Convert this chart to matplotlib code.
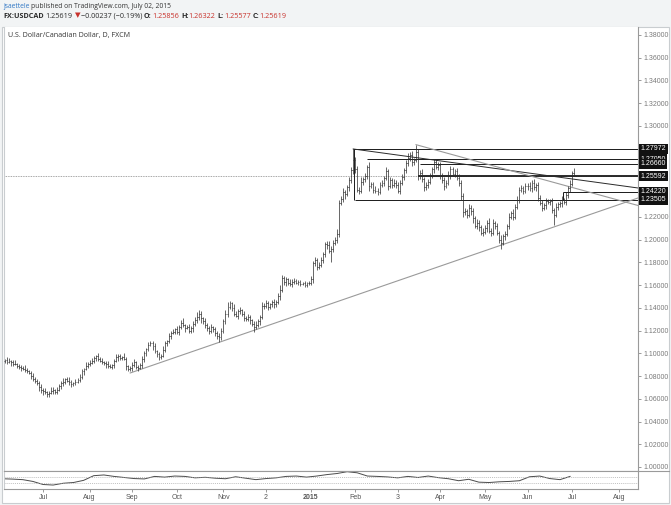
import numpy as np
import pandas as pd
import matplotlib
matplotlib.use("Agg")
import matplotlib.pyplot as plt
from matplotlib.collections import LineCollection
from matplotlib.patches import Rectangle
from matplotlib.lines import Line2D

# ---- data: USDCAD daily closes, Jun 3 2014 .. Jul 2 2015 ----
c_jun14 = [1.0935, 1.0940, 1.0925, 1.0935, 1.0920, 1.0910, 1.0905, 1.0890, 1.0880, 1.0875,
           1.0865, 1.0855, 1.0845, 1.0825, 1.0800, 1.0775, 1.0760, 1.0735, 1.0700, 1.0675]
c_jul14 = [1.0665, 1.0660, 1.0640, 1.0650, 1.0670, 1.0680, 1.0660, 1.0675, 1.0710, 1.0740,
           1.0750, 1.0770, 1.0760, 1.0745, 1.0730, 1.0740, 1.0750, 1.0765, 1.0790, 1.0840,
           1.0860, 1.0890, 1.0905]
c_aug14 = [1.0915, 1.0935, 1.0960, 1.0975, 1.0950, 1.0935, 1.0925, 1.0915, 1.0905, 1.0890,
           1.0880, 1.0895, 1.0930, 1.0965, 1.0975, 1.0960, 1.0970, 1.0950, 1.0885, 1.0860,
           1.0870]
c_sep14 = [1.0900, 1.0920, 1.0880, 1.0870, 1.0895, 1.0950, 1.1000, 1.1040, 1.1070, 1.1090,
           1.1060, 1.1020, 1.0990, 1.0970, 1.0975, 1.1030, 1.1090, 1.1110, 1.1150, 1.1180,
           1.1190, 1.1210]
c_oct14 = [1.1190, 1.1230, 1.1270, 1.1250, 1.1220, 1.1230, 1.1200, 1.1220, 1.1260, 1.1290,
           1.1320, 1.1350, 1.1310, 1.1280, 1.1250, 1.1220, 1.1200, 1.1230, 1.1210, 1.1180,
           1.1150, 1.1140, 1.1200]
c_nov14 = [1.1280, 1.1350, 1.1410, 1.1440, 1.1400, 1.1350, 1.1330, 1.1370, 1.1380, 1.1350,
           1.1310, 1.1300, 1.1320, 1.1290, 1.1260, 1.1230, 1.1250, 1.1280, 1.1320, 1.1420]
c_dec14 = [1.1420, 1.1440, 1.1410, 1.1430, 1.1450, 1.1430, 1.1450, 1.1500, 1.1560, 1.1660,
           1.1630, 1.1650, 1.1620, 1.1610, 1.1630, 1.1640, 1.1620, 1.1625, 1.1610, 1.1620,
           1.1600, 1.1615, 1.1620]
c_jan15 = [1.1650, 1.1790, 1.1820, 1.1760, 1.1780, 1.1820, 1.1870, 1.1960, 1.1950, 1.1900,
           1.1920, 1.1970, 1.2000, 1.2050, 1.2320, 1.2360, 1.2420, 1.2400, 1.2460, 1.2520,
           1.2610, 1.2700]
c_feb15 = [1.2620, 1.2440, 1.2430, 1.2510, 1.2530, 1.2560, 1.2640, 1.2470, 1.2490, 1.2440,
           1.2430, 1.2420, 1.2480, 1.2500, 1.2540, 1.2600, 1.2470, 1.2520, 1.2480, 1.2500]
c_mar15 = [1.2480, 1.2430, 1.2500, 1.2550, 1.2610, 1.2670, 1.2720, 1.2740, 1.2680, 1.2700,
           1.2770, 1.2560, 1.2590, 1.2530, 1.2460, 1.2480, 1.2510, 1.2560, 1.2620, 1.2680,
           1.2640, 1.2660]
c_apr15 = [1.2560, 1.2520, 1.2470, 1.2500, 1.2560, 1.2620, 1.2580, 1.2600, 1.2540, 1.2500,
           1.2380, 1.2240, 1.2250, 1.2220, 1.2280, 1.2250, 1.2190, 1.2120, 1.2150, 1.2110,
           1.2060, 1.2070]
c_may15 = [1.2100, 1.2150, 1.2080, 1.2060, 1.2150, 1.2120, 1.2060, 1.2000, 1.1970, 1.2030,
           1.2050, 1.2120, 1.2200, 1.2230, 1.2200, 1.2290, 1.2350, 1.2440, 1.2450, 1.2430,
           1.2470]
c_jun15 = [1.2470, 1.2450, 1.2500, 1.2460, 1.2480, 1.2370, 1.2320, 1.2280, 1.2300, 1.2340,
           1.2330, 1.2340, 1.2260, 1.2220, 1.2290, 1.2310, 1.2320, 1.2350, 1.2330, 1.2390,
           1.2450, 1.2490]
c_jul15 = [1.25856, 1.25619]
first_open = 1.0930

# wick length above / below the bar body, in units of 10 pips
wick_hi = [2, 1, 3, 2, 1, 2, 3, 1, 2, 2, 1, 3, 2, 1, 2, 3, 2, 1, 2, 3,
           2, 3, 1, 2, 3, 2, 1, 3, 2, 2, 3, 1, 2, 3, 2, 1, 2, 2, 3, 2, 1, 3, 2,
           3, 2, 2, 1, 3, 2, 2, 1, 2, 3, 2, 1, 2, 3, 2, 2, 1, 3, 2, 1, 2,
           2, 3, 1, 2, 2, 3, 2, 1, 3, 2, 2, 3, 1, 2, 2, 3, 2, 1, 3, 2, 2, 1,
           3, 2, 2, 4, 1, 2, 3, 2, 2, 3, 4, 3, 2, 1, 3, 2, 2, 3, 1, 2, 2, 3, 2,
           2, 3, 4, 2, 1, 3, 2, 2, 3, 1, 2, 2, 3, 2, 1, 2, 3, 2, 2, 3,
           2, 3, 2, 1, 2, 3, 2, 3, 4, 3, 2, 2, 1, 3, 2, 2, 1, 2, 2, 1, 2, 1, 2,
           3, 2, 3, 2, 2, 3, 2, 2, 3, 4, 2, 3, 2, 4, 3, 2, 3, 2, 2, 3, 3, 10,
           3, 3, 2, 4, 2, 3, 2, 4, 2, 2, 3, 2, 3, 2, 2, 4, 2, 3, 2, 3,
           2, 3, 2, 3, 2, 3, 4, 3, 4, 2, 6, 3, 2, 3, 2, 3, 2, 3, 2, 3, 3, 2,
           2, 3, 3, 2, 4, 3, 2, 2, 3, 4, 2, 3, 3, 2, 3, 2, 3, 2, 3, 2, 2, 3,
           3, 2, 4, 2, 3, 1, 3, 2, 4, 2, 3, 2, 3, 2, 4, 2, 3, 2, 3, 2, 3,
           3, 4, 2, 3, 2, 3, 2, 3, 2, 3, 2, 2, 3, 2, 3, 2, 2, 3, 2, 3, 2, 3,
           2, 5]
wick_lo = [1, 2, 2, 1, 3, 2, 1, 2, 2, 3, 1, 2, 2, 1, 3, 2, 2, 1, 3, 2,
           3, 2, 2, 2, 1, 3, 2, 2, 1, 2, 3, 2, 1, 2, 3, 2, 2, 1, 2, 2, 3, 1, 2,
           2, 1, 2, 3, 2, 1, 2, 2, 3, 2, 1, 2, 2, 1, 3, 2, 2, 1, 3, 2, 2,
           3, 2, 2, 3, 1, 2, 3, 2, 2, 1, 3, 2, 2, 3, 2, 1, 2, 3, 2, 2, 1, 2,
           2, 3, 2, 2, 3, 1, 2, 2, 3, 2, 2, 3, 4, 2, 3, 2, 3, 2, 2, 3, 2, 4, 2,
           2, 2, 3, 2, 3, 2, 1, 3, 2, 2, 3, 2, 2, 3, 2, 4, 2, 2, 3, 2,
           3, 2, 3, 2, 2, 3, 2, 2, 3, 2, 3, 4, 2, 2, 3, 2, 1, 2, 2, 1, 2, 2, 1,
           2, 3, 2, 3, 2, 2, 3, 2, 3, 2, 10, 3, 2, 3, 3, 2, 3, 4, 2, 3, 2, 3,
           3, 2, 3, 2, 3, 2, 3, 4, 2, 3, 2, 3, 2, 2, 3, 2, 3, 2, 3, 2,
           3, 2, 3, 2, 3, 2, 2, 3, 3, 2, 2, 4, 3, 2, 3, 2, 3, 2, 2, 3, 2, 3,
           3, 2, 3, 2, 2, 3, 2, 3, 2, 3, 3, 4, 2, 3, 2, 3, 4, 2, 3, 3, 2, 3,
           2, 3, 2, 3, 2, 3, 2, 3, 5, 2, 3, 2, 3, 2, 3, 2, 2, 3, 2, 3, 2,
           3, 2, 3, 2, 3, 3, 2, 3, 2, 3, 2, 3, 3, 9, 2, 3, 2, 3, 2, 3, 2, 3,
           2, 0]
last_ohlc = (1.25856, 1.26322, 1.25577, 1.25619)

# oscillator pane, one reading every 5 bars
osc_vals = [57, 55, 52, 42, 25, 22, 32, 36, 48, 74, 78, 70, 64, 58, 56, 70, 66, 72, 70, 62,
            65, 60, 57, 68, 60, 52, 58, 62, 70, 72, 66, 72, 80, 86, 96, 90, 72, 70, 67, 62,
            70, 64, 72, 63, 57, 46, 54, 38, 36, 40, 42, 46, 68, 72, 58, 52, 70]

# drawn levels / trend lines (bar index, price)
h_levels = [1.27972, 1.27050, 1.26660, 1.25592, 1.24220, 1.23505]
h_starts = [173, 180, 206, 205, 276.5, 174]
trend_black = ([173, 313.5], [1.27972, 1.2454])
trend_gray1 = ([204, 313.5], [1.2835, 1.2300])
trend_gray2 = ([63, 313.5], [1.0827, 1.2366])

month_ticks = [20, 43, 64, 86, 109, 130, 152, 174, 195, 216, 238, 259, 281, 304]
month_labels = ["Jul", "Aug", "Sep", "Oct", "Nov", "2", "2015", "Feb", "3", "Apr",
                "May", "Jun", "Jul", "Aug"]

closes = np.array(c_jun14 + c_jul14 + c_aug14 + c_sep14 + c_oct14 + c_nov14 + c_dec14
                  + c_jan15 + c_feb15 + c_mar15 + c_apr15 + c_may15 + c_jun15 + c_jul15)
dates = pd.bdate_range("2014-06-03", "2015-07-02")
assert len(dates) == len(closes) == len(wick_hi) == len(wick_lo), \
    (len(dates), len(closes), len(wick_hi), len(wick_lo))

opens = np.r_[first_open, closes[:-1]]
highs = np.maximum(opens, closes) + np.array(wick_hi) * 0.001
lows = np.minimum(opens, closes) - np.array(wick_lo) * 0.001
opens[-1], highs[-1], lows[-1], closes[-1] = last_ohlc
idx = np.arange(len(closes))

# ---- figure ----
W, H = 671, 505
fig = plt.figure(figsize=(W / 100, H / 100), dpi=100)
fig.patch.set_facecolor("#f2f4f5")
fig.patches.append(Rectangle((2 / W, 1 - 503 / H), 667 / W, 476 / H,
                             transform=fig.transFigure, fc="white", ec="#c9cdd0",
                             lw=0.8, zorder=-5))

ax = fig.add_axes([4 / W, 1 - 471 / H, 634 / W, 444 / H])
ind = fig.add_axes([4 / W, 1 - 489 / H, 634 / W, 18 / H], sharex=ax)

xmin, xmax = 0.74, 313.5
ax.set_xlim(xmin, xmax)
ax.set_ylim(0.99648, 1.38699)

# OHLC bars
segs = []
for i, o, h, l, c in zip(idx, opens, highs, lows, closes):
    segs.append([(i, l), (i, h)])
    segs.append([(i - 0.45, o), (i, o)])
    segs.append([(i, c), (i + 0.45, c)])
ax.add_collection(LineCollection(segs, colors="#2a2a2a", linewidths=0.5, zorder=3))

# drawings
for lvl, x0 in zip(h_levels, h_starts):
    lw = 1.3 if lvl == 1.25592 else 0.7
    ax.hlines(lvl, x0, xmax, color="#1a1a1a", lw=lw, zorder=2)
ax.vlines(173.5, 1.23505, 1.27972, color="#1a1a1a", lw=0.7, zorder=2)
ax.vlines(276.5, 1.23505, 1.24220, color="#1a1a1a", lw=0.7, zorder=2)
ax.plot(*trend_black, color="#2a2a2a", lw=0.7, zorder=2)
ax.plot(*trend_gray1, color="#9a9a9a", lw=0.8, zorder=2)
ax.plot(*trend_gray2, color="#9a9a9a", lw=0.8, zorder=2)
ax.axhline(last_ohlc[3], color="#888888", lw=0.6, ls=(0, (1, 1)), zorder=1)

# right price axis
yt = [round(v, 2) for v in np.arange(1.00, 1.381, 0.02)]
yt = [v for v in yt if v not in (1.24, 1.26, 1.28)]
ax.set_yticks(yt)
ax.set_yticklabels([f"{v:.5f}" for v in yt])
ax.yaxis.tick_right()
ax.tick_params(axis="y", length=2.5, width=0.6, color="#8a8a8a", labelsize=5,
               labelcolor="#7a7a7a", pad=1.5)
for lab in ax.get_yticklabels():
    lab.set_family("Liberation Sans")
ax.tick_params(axis="x", bottom=False, labelbottom=False)
for side, sp in ax.spines.items():
    sp.set_color("#9a9a9a")
    sp.set_linewidth(0.8)
ax.spines["top"].set_visible(False)
ax.spines["left"].set_color("#c9cdd0")

# price label boxes
for lvl in h_levels:
    ax.text(1.004, lvl, f"{lvl:.5f}", transform=ax.get_yaxis_transform(),
            ha="left", va="center", fontsize=5, color="white", family="Liberation Sans",
            bbox=dict(boxstyle="square,pad=0.22", fc="#111111", ec="none"),
            clip_on=False, zorder=6)

# separator line carried across the label column
fig.lines.append(Line2D([638 / W, 669 / W], [1 - 471 / H, 1 - 471 / H],
                        transform=fig.transFigure, color="#9a9a9a", lw=0.8))

# oscillator pane
ind.plot(np.arange(0, 5 * len(osc_vals), 5), osc_vals, color="#4a4a4a", lw=0.7)
ind.axhline(66, color="#aaaaaa", lw=0.5, ls=(0, (1.5, 1.5)))
ind.axhline(34, color="#aaaaaa", lw=0.5, ls=(0, (1.5, 1.5)))
ind.set_ylim(0, 100)
ind.set_yticks([])
ind.set_xticks(month_ticks)
ind.set_xticklabels(month_labels)
ind.tick_params(axis="x", length=2, width=0.6, color="#8a8a8a", labelsize=5,
                labelcolor="#555555", pad=1.5, labelbottom=True)
for lab in ind.get_xticklabels():
    lab.set_family("Liberation Sans")
    if lab.get_text() == "2015":
        lab.set_fontweight("bold")
for sp in ind.spines.values():
    sp.set_color("#9a9a9a")
    sp.set_linewidth(0.8)
ind.spines["left"].set_color("#c9cdd0")

# header texts
rend = fig.canvas.get_renderer()

def draw_pieces(pieces, x, y, size):
    gap = size * 0.3 * 100 / 72
    for s, color, weight, space in pieces:
        t = fig.text(x / W, 1 - y / H, s, fontsize=size, color=color, weight=weight,
                     family=["Open Sans", "DejaVu Sans"], ha="left", va="center")
        x += t.get_window_extent(rend).width + (gap if space else 0)

red = "#c8322c"
dark = "#2b2b2b"
draw_pieces([("jsaettele", "#2f76c4", "normal", True),
             ("published on TradingView.com, July 02, 2015", "#333333", "normal", False)],
            3, 6.5, 4.9)
o, h, l, c = last_ohlc
draw_pieces([("FX:USDCAD", dark, "bold", True),
             (f"{c:.5f}", dark, "normal", True),
             ("\u25bc", red, "normal", False),
             ("\u22120.00237 (\u22120.19%)", dark, "normal", True),
             ("O:", dark, "bold", False), (f"{o:.5f}", red, "normal", True),
             ("H:", dark, "bold", False), (f"{h:.5f}", red, "normal", True),
             ("L:", dark, "bold", False), (f"{l:.5f}", red, "normal", True),
             ("C:", dark, "bold", False), (f"{c:.5f}", red, "normal", False)],
            3, 16, 5.2)
fig.text(8 / W, 1 - 35 / H, "U.S. Dollar/Canadian Dollar, D, FXCM", fontsize=5.1,
         color="#333333", family="Open Sans", ha="left", va="center")

fig.savefig("out.png", dpi=100, facecolor=fig.get_facecolor())
